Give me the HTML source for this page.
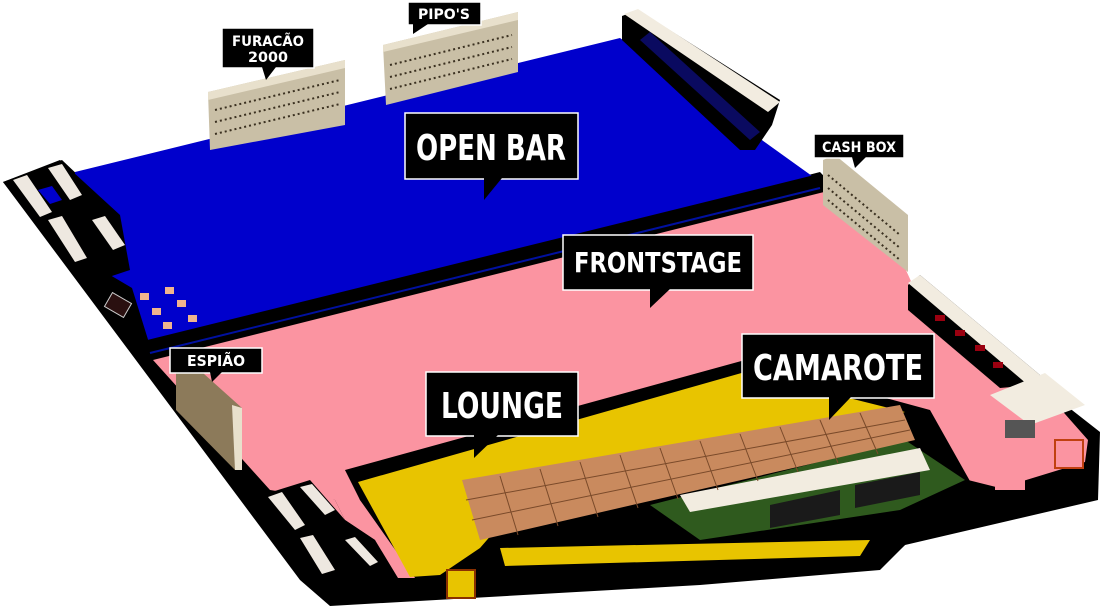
<!DOCTYPE html>
<html><head><meta charset="utf-8"><style>
html,body{margin:0;padding:0;background:#fff;}
svg{display:block}
.lb{font-family:"DejaVu Sans Condensed","DejaVu Sans","Liberation Sans",sans-serif;font-weight:bold;fill:#fff;text-anchor:middle}
.bx{fill:#000;stroke:#fff;stroke-width:1.5}
</style></head><body>
<svg width="1110" height="606" viewBox="0 0 1110 606" xmlns="http://www.w3.org/2000/svg">
<!-- black base -->
<polygon points="3,182 62,160 120,215 130,270 150,345 820,172 905,262 908,290 1040,385 1100,432 1098,500 905,545 880,570 700,585 330,606 300,580" fill="#000"/>
<!-- blue -->
<polygon points="75,172 620,38 812,176 150,346 132,288 110,275 120,220 75,190" fill="#0000cc"/>
<line x1="148" y1="345" x2="815" y2="180" stroke="#000" stroke-width="10"/>
<line x1="150" y1="353" x2="820" y2="188" stroke="#0010a0" stroke-width="2"/>
<!-- pink -->
<polygon points="153,360 824,192 905,268 915,290 1035,380 1088,440 1085,462 1000,488 960,478 345,470 352,478 360,500 420,578 398,578 375,540 345,520 335,500 270,490" fill="#fb94a1"/>
<polygon points="335,500 300,490 345,520" fill="#fb94a1"/>
<!-- bottom-left booths -->
<polygon points="262,495 310,480 345,520 375,540 385,580 335,590" fill="#000"/>
<polygon points="268,497 282,492 305,525 295,530" fill="#eee8e0"/>
<polygon points="300,487 312,484 335,510 325,515" fill="#eee8e0"/>
<polygon points="300,538 313,535 335,570 322,574" fill="#eee8e0"/>
<polygon points="345,540 355,537 378,562 370,566" fill="#eee8e0"/>
<!-- top-left booths -->
<polygon points="3,182 60,160 120,215 130,270 85,285" fill="#000"/>
<polygon points="13,180 27,175 52,212 40,217" fill="#eee8e0"/>
<polygon points="48,168 62,164 82,195 70,200" fill="#eee8e0"/>
<polygon points="48,220 62,216 87,258 75,262" fill="#eee8e0"/>
<polygon points="92,220 105,216 125,245 113,250" fill="#eee8e0"/>
<polygon points="38,190 52,186 62,200 50,204" fill="#0000cc"/>
<!-- small tables -->
<rect x="107" y="297" width="22" height="16" fill="#2a1010" stroke="#ccc" transform="rotate(30 118 305)"/>
<g fill="#f0b48e"><rect x="140" y="293" width="9" height="7"/><rect x="165" y="287" width="9" height="7"/><rect x="152" y="308" width="9" height="7"/><rect x="177" y="300" width="9" height="7"/><rect x="163" y="322" width="9" height="7"/><rect x="188" y="315" width="9" height="7"/></g>
<!-- espiao wall -->
<polygon points="176,358 184,356 242,408 242,470 235,470 176,410" fill="#8c7a5a"/>
<polygon points="232,405 242,408 242,470 235,470" fill="#e8e0cc"/>
<!-- lounge block -->
<polygon points="345,470 745,360 930,410 975,490 905,545 880,568 500,578 420,585 360,500" fill="#000"/>
<polygon points="358,482 745,372 905,412 500,525 480,548 440,575 410,577" fill="#e8c400"/>
<polygon points="500,548 870,540 860,556 505,566" fill="#e8c400"/>
<polygon points="447,570 475,570 475,598 447,598" fill="#e8c400" stroke="#8a3000" stroke-width="2"/>
<polygon points="650,505 905,440 965,480 900,510 700,540" fill="#2f5a1e"/>
<polygon points="680,495 920,448 930,470 690,512" fill="#f2ece0"/>
<polygon points="770,505 840,490 840,515 770,528" fill="#1a1a1a"/>
<polygon points="855,485 920,472 920,495 855,508" fill="#1a1a1a"/>
<polygon points="462,480 900,405 915,440 480,540" fill="#c98a5e"/>
<g stroke="#7a4a2a" stroke-width="1">
<line x1="466" y1="500" x2="905" y2="420"/><line x1="472" y1="520" x2="910" y2="430"/>
<line x1="500" y1="476" x2="518" y2="535"/><line x1="540" y1="469" x2="558" y2="526"/><line x1="580" y1="462" x2="598" y2="517"/><line x1="620" y1="455" x2="638" y2="508"/><line x1="660" y1="448" x2="678" y2="499"/><line x1="700" y1="441" x2="718" y2="490"/><line x1="740" y1="434" x2="758" y2="481"/><line x1="780" y1="427" x2="798" y2="472"/><line x1="820" y1="420" x2="838" y2="463"/><line x1="860" y1="413" x2="878" y2="454"/>
</g>
<polygon points="462,462 500,455 500,470 462,480" fill="#e8c400" opacity=".6"/>
<!-- tents top right -->
<polygon points="622,16 638,10 780,100 772,125 755,150 740,150 622,40" fill="#000"/>
<polygon points="624,14 638,9 780,102 768,112" fill="#f2ece0"/>
<polygon points="640,40 750,140 760,132 650,32" fill="#0a0a60"/>
<!-- tent right middle -->
<polygon points="908,285 920,275 1040,375 1035,385 1000,388 908,310" fill="#000"/>
<polygon points="908,283 920,275 1040,375 1028,385" fill="#f2ece0"/>
<g fill="#9a0010"><rect x="935" y="315" width="10" height="6"/><rect x="955" y="330" width="10" height="6"/><rect x="975" y="345" width="10" height="6"/><rect x="993" y="362" width="10" height="6"/></g>
<polygon points="990,395 1045,373 1085,405 1030,425" fill="#f2ece0"/>
<rect x="1005" y="420" width="30" height="18" fill="#555"/>
<rect x="1055" y="440" width="28" height="28" fill="#fb94a1" stroke="#c04010" stroke-width="2"/>
<polygon points="995,468 1025,458 1025,490 995,490" fill="#fb94a1"/>
<!-- stands -->
<polygon points="208,92 345,60 345,125 210,150" fill="#c9bfa6"/>
<polygon points="208,92 345,60 345,68 208,100" fill="#e8e0cc"/>
<polygon points="383,45 518,12 518,72 386,105" fill="#c9bfa6"/>
<polygon points="383,45 518,12 518,20 383,52" fill="#e8e0cc"/>
<polygon points="823,160 835,155 908,215 908,272 823,205" fill="#c9bfa6"/>
<g stroke="#3a3020" stroke-width="2" stroke-dasharray="2 3">
<line x1="215" y1="110" x2="340" y2="80"/><line x1="215" y1="122" x2="340" y2="92"/><line x1="215" y1="134" x2="340" y2="104"/>
<line x1="390" y1="65" x2="512" y2="35"/><line x1="390" y1="77" x2="512" y2="47"/><line x1="390" y1="89" x2="512" y2="59"/>
<line x1="828" y1="175" x2="900" y2="235"/><line x1="828" y1="188" x2="900" y2="248"/><line x1="828" y1="200" x2="900" y2="260"/>
</g>
<!-- labels -->
<rect class="bx" x="222" y="28" width="92" height="40"/><polygon points="262,67 276,67 266,80" fill="#000"/>
<text class="lb" x="268" y="46" font-size="14" textLength="72" lengthAdjust="spacingAndGlyphs">FURACÃO</text><text class="lb" x="268" y="62" font-size="14" textLength="40" lengthAdjust="spacingAndGlyphs">2000</text>
<rect class="bx" x="408" y="2" width="73" height="23"/><polygon points="413,24 428,24 413,34" fill="#000"/>
<text class="lb" x="444" y="19" font-size="14" textLength="52" lengthAdjust="spacingAndGlyphs">PIPO'S</text>
<rect class="bx" x="405" y="113" width="173" height="66"/><polygon points="484,178 502,178 484,200" fill="#000"/>
<text class="lb" x="491" y="160" font-size="36" textLength="150" lengthAdjust="spacingAndGlyphs">OPEN BAR</text>
<rect class="bx" x="814" y="134" width="90" height="24"/><polygon points="852,157 866,157 855,168" fill="#000"/>
<text class="lb" x="859" y="152" font-size="14" textLength="74" lengthAdjust="spacingAndGlyphs">CASH BOX</text>
<rect class="bx" x="563" y="235" width="190" height="55"/><polygon points="650,289 670,289 650,308" fill="#000"/>
<text class="lb" x="658" y="272" font-size="28" textLength="168" lengthAdjust="spacingAndGlyphs">FRONTSTAGE</text>
<rect class="bx" x="170" y="348" width="92" height="25"/><polygon points="210,372 222,372 212,382" fill="#000"/>
<text class="lb" x="216" y="366" font-size="15" textLength="58" lengthAdjust="spacingAndGlyphs">ESPIÃO</text>
<rect class="bx" x="426" y="372" width="152" height="64"/><polygon points="474,435 498,435 474,458" fill="#000"/>
<text class="lb" x="502" y="418" font-size="36" textLength="122" lengthAdjust="spacingAndGlyphs">LOUNGE</text>
<rect class="bx" x="742" y="334" width="192" height="64"/><polygon points="829,397 851,397 829,420" fill="#000"/>
<text class="lb" x="838" y="380" font-size="36" textLength="170" lengthAdjust="spacingAndGlyphs">CAMAROTE</text>
</svg>
</body></html>
